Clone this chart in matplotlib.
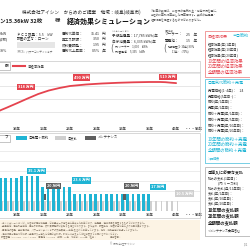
import matplotlib.pyplot as plt
from matplotlib.patches import Rectangle
from matplotlib.lines import Line2D

plt.rcParams['font.family'] = ['Noto Sans CJK JP', 'DejaVu Sans']

# ---- data ----
line_years = [6, 7, 8, 10, 12, 14, 16, 18, 20, 23, 26, 29, 32, 35, 37, 38, 39, 40]
line_values = [225, 250, 272, 318, 365, 410, 445, 470, 490, 505, 515, 522, 527, 530, 530, 528, 523, 519]
line_labels = {10: '318', 20: '490', 40: '519'}

bar_years = list(range(1, 41))
save_sell = [33.0] * 10 + [35.1] * 4 + [23.6] * 6 + [17.0] * 15 + [0] * 5
payment = [10.5] * 40
maint_years = [15, 30]
maint_values = [20, 20]

tick_years = [10, 15, 20, 25, 30, 35, 40]
tick_names = ['10年', '15年', '20年', '25年', '30年', '35年', '40年']

RED = '#e5434e'
CYAN = '#1fb4d4'
LGRAY = '#cfcfcf'
DGRAY = '#5e5e5e'

fig = plt.figure(figsize=(2.5, 2.5), dpi=100)
W = H = 250.0


def T(x, y, s, size=2.6, **kw):
    kw.setdefault('va', 'center')
    kw.setdefault('color', '#333333')
    fig.text(x / W, 1 - y / H, s, fontsize=size, **kw)


def box(x0, y0, x1, y1, **kw):
    fig.add_artist(Rectangle((x0 / W, 1 - y1 / H), (x1 - x0) / W, (y1 - y0) / H,
                             transform=fig.transFigure, **kw))


def hline(x0, x1, y, **kw):
    fig.add_artist(Line2D([x0 / W, x1 / W], [1 - y / H, 1 - y / H], transform=fig.transFigure, **kw))


def ax_at(x0, y0, x1, y1):
    return fig.add_axes([x0 / W, 1 - y1 / H, (x1 - x0) / W, (y1 - y0) / H])


# ---- header ----
T(22, 12, '株式会社アイシン　からめのご提案　地域：岐阜(岐阜市)', 3.3, color='#222222')
T(0, 21, 'ン15.36kW 32枚', 4.0, weight='bold', color='#222222')
T(55, 21, '様', 3.8, weight='bold', color='#222222')
T(67, 21, '経済効果シミュレーション', 5.0, weight='bold', color='#111111')
for i, s in enumerate(['※試算の数値は、お客様の電気料金・使用状況を基に、',
                       '当社の計算式で算出した概算値です。実際の発電量・',
                       '経済効果を保証するものではありません。']):
    T(151, 10 + i * 5, s, 2.0, color='#555555')

# info rows
for i, s in enumerate(['6kW', '(2枚)', '', '38%']):
    T(0, 34 + i * 5.5, s, 2.6)
T(17, 34, 'ＰＣＳ容量：5.5　kW', 2.6)
T(17, 39.5, '設置の主な：ローン', 2.6)
box(17, 42.5, 55, 48, facecolor='#e6e6e6', edgecolor='none')
T(17, 52, '※PCS：パワーコンディショナ', 1.9, color='#666666')
for i, (k, v, u) in enumerate([('電気代単価：', '35.41', '円'), ('再エネ賦課：', '3.50', '円'),
                               ('燃料費調整：', '1.95', '円'), ('電気代上昇率：', '0.5%', '/年')]):
    T(62, 34 + i * 5.5, k, 2.6)
    T(100, 34 + i * 5.5, v, 2.6, ha='right')
    T(102, 34 + i * 5.5, u, 2.6)
T(112, 31, 'シミュレーション', 1.6, color='#777777')
T(112, 35, '予想発電量：17,785 kWh/年', 2.6)
T(112, 41, '自家消費量：6,335 kWh/年', 2.6)
T(110, 48.5, '(', 6, color='#555555')
T(115, 46, '内 ソーラー　1,000　kWh', 2.0)
T(115, 51, '内 蓄電池　 5,335　kWh', 2.0)
T(165, 31, '保証年数', 1.6, color='#777777')
T(165, 35, 'ソーラー：', 2.6)
T(197, 35, '25　年', 2.6, ha='right')
T(165, 41, '蓄電池：', 2.6)
T(197, 41, '15　年', 2.6, ha='right')
T(163, 48.5, '(', 6, color='#555555')
T(168, 46, '初期保証(1~10年):90%', 1.9)
T(172, 51, '11年~　:70%)', 1.9)

# ---- line chart panel ----
box(-5, 61, 200, 131, facecolor='none', edgecolor='#c8c8c8', lw=0.5)
box(-3, 62.5, 10, 69.5, facecolor='white', edgecolor='#999999', lw=0.4)
T(9, 66, '額', 2.6, ha='right', weight='bold')
hline(13, 25, 66, color=RED, lw=1.5)
T(28, 66, '①経済効果', 2.4)

ax1 = ax_at(-40, 72, 200, 125)
ax1.plot(line_years, line_values, color=RED, lw=1.3, solid_capstyle='round')
ax1.set_xlim(-0.75, 44.5)
ax1.set_ylim(100, 630)
ax1.set_yticks([230, 360, 490, 620])
ax1.grid(axis='y', color='#dddddd', lw=0.5)
ax1.set_xticks(tick_years + [42.7, 44.2])
ax1.set_xticklabels(tick_names + ['・・・', '50年'], fontsize=2.6, weight='bold', color='#444444')
ax1.tick_params(length=0, pad=1.2, labelleft=False)
for s in ax1.spines.values():
    s.set_visible(False)
ax1.spines['top'].set_visible(True)
ax1.spines['top'].set_color('#cccccc')
ax1.spines['top'].set_linewidth(0.5)
offs = {10: (6.5, 11.5), 20: (8.3, 6.0), 40: (-6.0, 4.5)}
for yr, txt in line_labels.items():
    v = line_values[line_years.index(yr)]
    ax1.annotate(txt + ' 万円', (yr, v), xytext=offs[yr], textcoords='offset points',
                 ha='center', va='center', fontsize=2.8, color='white', weight='bold',
                 bbox=dict(boxstyle='square,pad=0.3', fc=RED, ec='none'))

# ---- bar chart panel ----
box(-5, 133, 200, 218, facecolor='none', edgecolor='#c8c8c8', lw=0.5)
box(-3, 134.5, 10, 141.5, facecolor='white', edgecolor='#999999', lw=0.4)
T(8.5, 138, 'フ', 2.6, ha='right', weight='bold')
box(16, 136, 27, 140, facecolor=CYAN, edgecolor='none')
T(29, 138, '②売電＋節約', 2.4)
box(55, 136, 66, 140, facecolor=LGRAY, edgecolor='none')
T(68, 138, '③支払', 2.4)
box(85, 136, 96, 140, facecolor=DGRAY, edgecolor='none')
T(98, 138, 'メンテナンス', 2.4)

ax2 = ax_at(-40, 142, 200, 211)
cy_x = [y - 0.15 for y, v in zip(bar_years, save_sell) if v > 0]
cy_v = [v for v in save_sell if v > 0]
ax2.bar(cy_x, cy_v, width=0.5, color=CYAN, zorder=3)
ax2.bar([y + 0.25 for y in bar_years], payment, width=0.35, color=LGRAY, zorder=2)
ax2.bar([y + 0.25 for y in maint_years], [6, 6], bottom=[11, 11], width=0.5, color=DGRAY, zorder=4)
ax2.set_xlim(-0.75, 44.5)
ax2.set_ylim(0, 69)
ax2.set_yticks([10, 20, 30, 40, 50, 60])
ax2.grid(axis='y', color='#e4e4e4', lw=0.5, zorder=0)
ax2.set_xticks(tick_years + [42.7, 44.2])
ax2.set_xticklabels(tick_names + ['・・・', '50年'], fontsize=2.6, weight='bold', color='#444444')
ax2.tick_params(length=0, pad=1.2, labelleft=False)
for s in ax2.spines.values():
    s.set_visible(False)


def tag(ax, yr, v, txt, fc, dx, dy):
    ax.annotate(txt + ' 万円', (yr, v), xytext=(dx, dy), textcoords='offset points',
                ha='center', va='center', fontsize=2.8, color='white', weight='bold',
                bbox=dict(boxstyle='square,pad=0.3', fc=fc, ec='none'), zorder=6)


tag(ax2, 11, save_sell[10], '35.1', CYAN, 10, 3.5)
tag(ax2, 15, maint_values[0], '20', DGRAY, 7, 3.5)
tag(ax2, 20, save_sell[19], '23.6', CYAN, 8, 5)
tag(ax2, 30, maint_values[1], '20', DGRAY, 6, 3.5)
tag(ax2, 35, save_sell[34], '17', CYAN, 6, 5)
tag(ax2, 40, payment[39], '10.5', LGRAY, 6, 5)

# ---- notes ----
box(0, 220, 200, 240, facecolor='#fcf3e4', edgecolor='none')
notes = ['※本シミュレーションは、お客様の電気使用量・日射量データ等を基に算出した試算であり、発電量・経済効果を保証するものではありません。',
         '※売電単価・電気料金単価・再エネ賦課金・燃料費調整額は変動する場合があります。また天候・設置条件・機器の劣化等により結果は異なります。',
         '※蓄電池の容量・充放電効率、パワーコンディショナの交換費用(15年毎)を含めて試算しています。税制・補助金等は考慮していません。',
         '※経済効果＝電気代節約額＋売電収入－導入に必要な支払額。詳細につきましては担当者までお問い合わせください。',
         '設置容量：15.36kW　PCS：5.5kW　蓄電池：9.8kWh　期間：50年　作成日：2024年　担当：　　　　　　提案番号：　　　　']
for i, s in enumerate(notes):
    T(1, 223 + i * 3.6, s, 1.6, color='#8c8070')
T(122, 244, '© 株式会社アイシン', 2.0, ha='center', color='#777777')
T(246, 244, '1/1', 2.0, ha='center', color='#777777')

# ---- right summary boxes ----
box(205, 31, 252, 77, facecolor='none', edgecolor='#ef8c8c', lw=0.6)
T(208, 36, '①経済効果', 2.9, color=RED)
T(232, 36, '＝②節約', 2.9, color=CYAN)
for i, s in enumerate(['経済効果(年/1年目)', '経済効果(年/10年目)', '経済効果(年/20年目)']):
    T(208, 44 + i * 5.5, s, 2.4)
for i, s in enumerate(['10年間の経済効果', '20年間の経済効果', '全期間の経済効果']):
    T(208, 61 + i * 5.5, s, 3.2, color=RED)

box(205, 79, 252, 163, facecolor='none', edgecolor='#62c7e0', lw=0.6)
T(208, 84, '②電気代節約＋売電', 2.9, color=CYAN)
for i, s in enumerate(['売電価格(1~4年)：　24', '売電価格(5年目~)：', '節約(年/1年目)：', '売電(年/1年目)：',
                       '節約＋売電(年/1年目)：', '節約＋売電(年/5年目)：', '節約＋売電(年/10年目)：',
                       '節約＋売電(年/20年目)：']):
    T(208, 90 + i * 5.8, s, 2.4)
for i, s in enumerate(['10年間の節約＋売電', '20年間の節約＋売電', '全期間の節約＋売電']):
    T(208, 139 + i * 5.5, s, 3.2, color=CYAN)
T(208, 158, '＞明細表', 2.2, color=CYAN)

box(205, 167, 252, 236, facecolor='none', edgecolor='#b5b5b5', lw=0.6)
T(208, 172, '③導入に必要な支払', 2.9, weight='bold', color='#222222')
for i, s in enumerate(['初めの支払(1年目)：', '　　　(内 リース料)', '初めの支払(月/11年目)：',
                       '支払(年/1年目)：', '支払(年/10年目)：', '支払(年/20年目)：']):
    T(208, 178 + i * 5.0, s, 2.4)
for i, s in enumerate(['10年間の支払額', '20年間の支払額', '全期間の支払額']):
    T(208, 211 + i * 5.8, s, 3.2, weight='bold', color='#222222')
T(208, 230, '＜メンテナンス費用含む', 2.2)

fig.savefig('out.png', dpi=100)
